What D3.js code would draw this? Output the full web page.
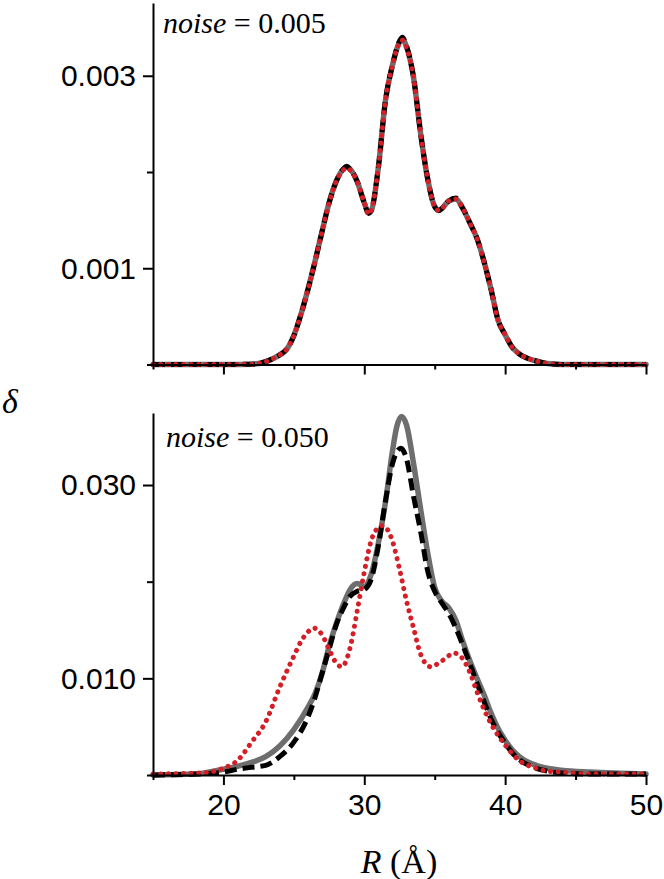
<!DOCTYPE html>
<html>
<head>
<meta charset="utf-8">
<script src="https://cdn.jsdelivr.net/npm/d3@7"></script>
<style>
  html, body { margin: 0; padding: 0; background: #fff; }
  svg { display: block; }
</style>
</head>
<body>
<svg id="chart" width="664" height="879"></svg>
<script>
// ---------------- DATA ----------------
// Top panel (noise = 0.005): R grid and the three curves
const topR = [15,18,20,21,22,22.5,23,23.5,24,24.5,25,25.5,26,26.5,27,27.5,28,28.5,28.75,29,29.5,30,30.3,30.5,31,31.5,32,32.5,32.7,33,33.5,34,34.5,35,35.3,35.5,36,36.5,37,37.5,38,38.5,39,39.5,40,40.5,41,41.5,42,43,44,46,50];
const topGray  = [0,0,0,0.000001,0.000003,0.00001,0.00003,0.00006,0.0001,0.00016,0.0003,0.00052,0.00078,0.00107,0.00138,0.00168,0.0019,0.00203,0.00205,0.00203,0.0019,0.00168,0.00158,0.0016,0.00205,0.00274,0.00311,0.00335,0.00338,0.0033,0.00298,0.0024,0.00193,0.00164,0.0016,0.00162,0.0017,0.00172,0.00162,0.00147,0.00131,0.00107,0.00078,0.00046,0.00031,0.00018,0.00011,0.00007,0.000045,0.00001,0,0,0];
const topBlack = [0,0,0,0.000001,0.000003,0.00001,0.00003,0.00006,0.0001,0.00016,0.0003,0.00052,0.00078,0.00107,0.00138,0.00168,0.0019,0.00203,0.00206,0.00203,0.0019,0.00168,0.00157,0.0016,0.00205,0.00274,0.00311,0.00336,0.0034,0.00331,0.00298,0.0024,0.00193,0.00164,0.0016,0.00162,0.0017,0.00173,0.00162,0.00147,0.00131,0.00107,0.00078,0.00046,0.00031,0.00018,0.00011,0.00007,0.000045,0.00001,0,0,0];
const topRed   = [0,0,0,0.000001,0.000003,0.00001,0.00003,0.00006,0.0001,0.00016,0.0003,0.00052,0.00078,0.00107,0.00138,0.00168,0.0019,0.00202,0.00204,0.00202,0.0019,0.00168,0.00156,0.0016,0.00205,0.00274,0.00311,0.00334,0.00337,0.00329,0.00298,0.0024,0.00193,0.00164,0.0016,0.00162,0.0017,0.00172,0.00162,0.00147,0.00131,0.00107,0.00078,0.00046,0.00031,0.00018,0.00011,0.00007,0.000045,0.00001,0,0,0];

// Bottom panel (noise = 0.050)
const botGrayR  = [15,18,20,21,22,23,24,25,26,26.5,27,27.5,28,28.5,29,29.5,30,30.5,31,31.5,32,32.3,32.65,33,33.5,34,34.5,35,35.5,36,36.5,37,37.5,38,38.5,39,39.5,40,40.5,41,42,43,44,46,50];
const botGray   = [0,0.0001,0.0006,0.0009,0.0013,0.0019,0.003,0.0047,0.007,0.0084,0.0105,0.0133,0.0156,0.0176,0.0192,0.0198,0.0195,0.0208,0.024,0.0282,0.0335,0.036,0.0371,0.0362,0.0322,0.0275,0.023,0.0194,0.018,0.0173,0.016,0.0138,0.0118,0.01,0.0083,0.0064,0.0048,0.0036,0.0026,0.0019,0.0011,0.0007,0.0005,0.0003,0.0001];
const botBlackR = [15,18,20,21,22,23,24,25,26,26.5,27,27.5,28,28.5,29,29.5,30,30.5,31,31.5,32,32.3,32.6,33,33.5,34,34.5,35,35.5,36,36.5,37,37.5,38,38.5,39,39.5,40,40.5,41,42,43,44,46,50];
const botBlack  = [0,0.0001,0.0003,0.0006,0.0008,0.001,0.0019,0.0034,0.006,0.008,0.0105,0.013,0.0155,0.0172,0.0185,0.019,0.0192,0.0203,0.0237,0.0283,0.0322,0.0334,0.0338,0.0327,0.0288,0.0252,0.0211,0.019,0.0178,0.0167,0.0152,0.0134,0.0115,0.0095,0.0076,0.0058,0.0044,0.0033,0.0023,0.0016,0.0008,0.0004,0.0002,0.0001,0.0001];
const botRedR   = [15,18,19,20,21,22,23,24,25,25.5,26,26.4,27,27.5,28,28.4,29,29.5,30,30.5,31,31.3,32,32.5,33,33.5,34,34.7,35.5,36.4,37,37.5,38,38.5,39,39.5,40,41,42,43,44,46,50];
const botRed    = [0.0001,0.0002,0.0003,0.0007,0.0015,0.0034,0.0055,0.0091,0.0123,0.0138,0.0148,0.0152,0.0145,0.013,0.0116,0.0112,0.0132,0.017,0.021,0.0243,0.0256,0.0258,0.0242,0.0213,0.018,0.0152,0.0125,0.0112,0.0118,0.0126,0.012,0.0106,0.0086,0.0068,0.0053,0.0041,0.0031,0.0015,0.0008,0.0004,0.0003,0.0001,0.0001];

// Ticks
const xMajor = [20, 30, 40, 50];
const xMinor = [15, 25, 35, 45];
const xLabels = ["20", "30", "40", "50"];
const topYMajor = [0.001, 0.003];
const topYMinor = [0, 0.002];
const topYLabels = ["0.001", "0.003"];
const botYMajor = [0.010, 0.030];
const botYMinor = [0, 0.020];
const botYLabels = ["0.010", "0.030"];
const titles = ["0.005", "0.050"];

// ---------------- DRAW ----------------
const svg = d3.select("#chart");
const left = 153, right = 646;
const x = d3.scaleLinear().domain([15, 50]).range([left, right]);

const panels = [
  { top: 3, bottom: 364.5, ymax: 0.003756, yMajor: topYMajor, yMinor: topYMinor, yLabels: topYLabels,
    series: [[topR, topGray], [topR, topBlack], [topR, topRed]], title: titles[0], titleX: 163, titleY: 32.5, showX: false },
  { top: 413, bottom: 775, ymax: 0.03745, yMajor: botYMajor, yMinor: botYMinor, yLabels: botYLabels,
    series: [[botGrayR, botGray], [botBlackR, botBlack], [botRedR, botRed]], title: titles[1], titleX: 166, titleY: 446.5, showX: true }
];

const styles = [
  { stroke: "#6e6e6e", width: 5.5, dash: null, cap: "round" },
  { stroke: "#000000", width: 5, dash: "12 6", cap: "butt" },
  { stroke: "#d41f26", width: 5, dash: "0.1 7.5", cap: "round" }
];

const serif = "'Liberation Serif', 'Times New Roman', serif";
const sans = "'Liberation Sans', Arial, sans-serif";

panels.forEach(p => {
  const y = d3.scaleLinear().domain([0, p.ymax]).range([p.bottom, p.top]);
  const g = svg.append("g");

  // curves
  p.series.forEach((s, i) => {
    const pts = s[0].map((r, k) => [r, s[1][k]]);
    const line = d3.line().x(d => x(d[0])).y(d => y(d[1])).curve(d3.curveMonotoneX);
    const st = styles[i];
    g.append("path")
      .attr("d", line(pts))
      .attr("fill", "none")
      .attr("stroke", st.stroke)
      .attr("stroke-width", st.width)
      .attr("stroke-linecap", st.cap)
      .attr("stroke-linejoin", "round")
      .attr("stroke-dasharray", st.dash);
  });

  // y axis
  const yAx = g.append("g").attr("transform", `translate(${left},0)`)
    .call(d3.axisLeft(y).tickValues(p.yMajor).tickSize(10).tickSizeOuter(0)
      .tickFormat((d, i) => p.yLabels[i]));
  yAx.select(".domain").attr("stroke", "#000").attr("stroke-width", 2);
  yAx.selectAll(".tick line").attr("stroke", "#000").attr("stroke-width", 2);
  yAx.selectAll(".tick text")
    .attr("font-family", sans)
    .attr("font-size", 30).attr("fill", "#000")
    .attr("x", -17).attr("dy", "0.33em");
  const yMin = g.append("g").attr("transform", `translate(${left},0)`)
    .call(d3.axisLeft(y).tickValues(p.yMinor).tickSize(6).tickSizeOuter(0).tickFormat(""));
  yMin.select(".domain").remove();
  yMin.selectAll(".tick line").attr("stroke", "#000").attr("stroke-width", 2);

  // x axis
  const xAx = g.append("g").attr("transform", `translate(0,${p.bottom})`)
    .call(d3.axisBottom(x).tickValues(xMajor).tickSize(10).tickSizeOuter(0)
      .tickFormat((d, i) => p.showX ? xLabels[i] : ""));
  xAx.select(".domain").attr("stroke", "#000").attr("stroke-width", 2);
  xAx.selectAll(".tick line").attr("stroke", "#000").attr("stroke-width", 2);
  xAx.selectAll(".tick text")
    .attr("font-family", sans)
    .attr("font-size", 30).attr("fill", "#000")
    .attr("y", 19).attr("dy", "0.71em");
  const xMin = g.append("g").attr("transform", `translate(0,${p.bottom})`)
    .call(d3.axisBottom(x).tickValues(xMinor).tickSize(5).tickSizeOuter(0).tickFormat(""));
  xMin.select(".domain").remove();
  xMin.selectAll(".tick line").attr("stroke", "#000").attr("stroke-width", 2);

  // title
  const t = g.append("text")
    .attr("x", p.titleX).attr("y", p.titleY)
    .attr("font-family", serif)
    .attr("font-size", 30).attr("fill", "#000");
  t.append("tspan").attr("font-style", "italic").text("noise");
  t.append("tspan").text(" = " + p.title);
});

// axis labels
svg.append("text")
  .attr("x", 2).attr("y", 413)
  .attr("font-family", serif)
  .attr("font-style", "italic")
  .attr("font-size", 34).attr("fill", "#000")
  .text("δ");

const xl = svg.append("text")
  .attr("x", 399).attr("y", 873)
  .attr("text-anchor", "middle")
  .attr("font-family", serif)
  .attr("font-size", 34).attr("fill", "#000");
xl.append("tspan").attr("font-style", "italic").text("R");
xl.append("tspan").text(" (Å)");
</script>
</body>
</html>
